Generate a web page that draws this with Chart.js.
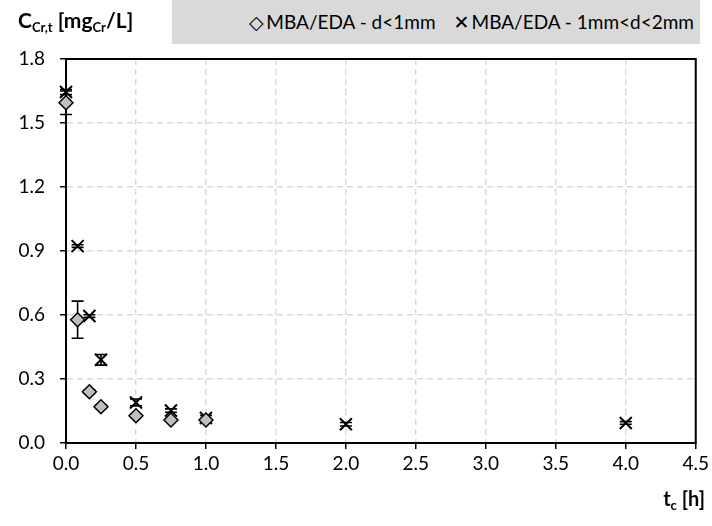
<!DOCTYPE html>
<html>
<head>
<meta charset="utf-8">
<script src="https://cdn.jsdelivr.net/npm/chart.js@4"></script>
<style>
    html, body { margin: 0; padding: 0; background: #fff; }
    #wrap { position: relative; width: 712px; height: 526px; font-family: Lato, 'Open Sans', sans-serif; color: #000; }
    #chart { position: absolute; left: 0; top: 0; }
    #ytitle { position: absolute; left: 18px; top: 7px; font-weight: bold; font-size: 21px; white-space: nowrap; }
    #ytitle sub { font-size: 13px; vertical-align: -4px; }
    #legend { position: absolute; left: 172px; top: 0; width: 528px; height: 44px; background: #d9d9d9;
        font-size: 19px; line-height: 44px; text-align: right; white-space: nowrap; }
    #legend span.item { margin-right: 6px; margin-left: 10px; }
    #legend span.sym { display: inline-block; width: 20px; text-align: center; font-family: 'DejaVu Sans', sans-serif; font-size: 19px; }
    #xtitle { position: absolute; right: 7px; top: 486px; font-weight: bold; font-size: 20px; white-space: nowrap; }
    #xtitle sub { font-size: 13px; vertical-align: -4px; }
</style>
</head>
<body>
<div id="wrap">
    <canvas id="chart" width="712" height="526"></canvas>
    <div id="ytitle">C<sub>Cr,t</sub> [mg<sub>Cr</sub>/L]</div>
    <div id="legend"></div>
    <div id="xtitle">t<sub>c</sub> [h]</div>
</div>
<script>
// Datos (tiempo de contacto en horas)
const timeFine = [0, 0.083, 0.167, 0.25, 0.5, 0.75, 1.0];
const fineValues = [1.595, 0.578, 0.24, 0.17, 0.128, 0.108, 0.108];
const fineErrors = [0.055, 0.087, 0.008, 0.008, 0.006, 0.006, 0.006];

const timeCoarse = [0, 0.083, 0.167, 0.25, 0.5, 0.75, 1.0, 2.0, 4.0];
const coarseValues = [1.645, 0.923, 0.595, 0.39, 0.19, 0.152, 0.117, 0.088, 0.094];
const coarseErrors = [0.012, 0.006, 0.006, 0.025, 0.016, 0.008, 0.012, 0.008, 0.006];

const seriesLabels = ['MBA/EDA - d<1mm', 'MBA/EDA - 1mm<d<2mm'];
const xTicks = [0, 0.5, 1.0, 1.5, 2.0, 2.5, 3.0, 3.5, 4.0, 4.5];
const yTicks = [0, 0.3, 0.6, 0.9, 1.2, 1.5, 1.8];

document.addEventListener('DOMContentLoaded', function() {
    buildLegend();
    initializeChart();
});

function buildLegend() {
    const legend = document.getElementById('legend');
    const symbols = ['\u25C7', '\u2715'];
    seriesLabels.forEach(function(label, i) {
        const item = document.createElement('span');
        item.className = 'item';
        const sym = document.createElement('span');
        sym.className = 'sym';
        sym.textContent = symbols[i];
        item.appendChild(sym);
        item.appendChild(document.createTextNode(label));
        legend.appendChild(item);
    });
}

function toPoints(xs, ys, errs) {
    return xs.map((x, i) => ({ x: x, y: ys[i], err: errs[i] }));
}

// Barras de error verticales con tapas
const errorBars = {
    id: 'errorBars',
    beforeDatasetsDraw(chart) {
        const ctx = chart.ctx;
        const yScale = chart.scales.y;
        ctx.save();
        ctx.strokeStyle = '#000';
        ctx.lineWidth = 1.6;
        chart.data.datasets.forEach(function(ds, di) {
            const meta = chart.getDatasetMeta(di);
            meta.data.forEach(function(pt, i) {
                const d = ds.data[i];
                const yTop = yScale.getPixelForValue(d.y + d.err);
                const yBot = yScale.getPixelForValue(d.y - d.err);
                ctx.beginPath();
                ctx.moveTo(pt.x, yTop);
                ctx.lineTo(pt.x, yBot);
                ctx.moveTo(pt.x - 6, yTop);
                ctx.lineTo(pt.x + 6, yTop);
                ctx.moveTo(pt.x - 6, yBot);
                ctx.lineTo(pt.x + 6, yBot);
                ctx.stroke();
            });
        });
        ctx.restore();
    }
};

// Marco superior y derecho del área del gráfico
const frame = {
    id: 'frame',
    beforeDatasetsDraw(chart) {
        const a = chart.chartArea;
        const ctx = chart.ctx;
        ctx.save();
        ctx.strokeStyle = '#000';
        ctx.lineWidth = 2;
        ctx.strokeRect(a.left, a.top, a.right - a.left, a.bottom - a.top);
        ctx.restore();
    }
};

function initializeChart() {
    const ctx = document.getElementById('chart');

    const chartConfig = {
        type: 'scatter',
        data: {
            datasets: [
                {
                    label: seriesLabels[0],
                    data: toPoints(timeFine, fineValues, fineErrors),
                    pointStyle: 'rectRot',
                    pointRadius: 7,
                    backgroundColor: '#bfbfbf',
                    borderColor: '#000',
                    borderWidth: 1.5,
                    clip: false
                },
                {
                    label: seriesLabels[1],
                    data: toPoints(timeCoarse, coarseValues, coarseErrors),
                    pointStyle: 'crossRot',
                    pointRadius: 8.5,
                    backgroundColor: '#000',
                    borderColor: '#000',
                    borderWidth: 2,
                    clip: false
                }
            ]
        },
        options: {
            responsive: false,
            animation: false,
            layout: {
                padding: { top: 59, right: 14, bottom: 43, left: 0 }
            },
            plugins: {
                legend: { display: false },
                tooltip: { enabled: false }
            },
            scales: {
                x: {
                    type: 'linear',
                    min: 0,
                    max: 4.5,
                    afterFit: function(s) { s.height = 40; },
                    afterBuildTicks: function(s) { s.ticks = xTicks.map(v => ({ value: v })); },
                    grid: {
                        color: '#d9d9d9',
                        lineWidth: 1.5,
                        tickLength: 6,
                        tickColor: '#000',
                        tickWidth: 1.5
                    },
                    border: { color: '#000', width: 2, dash: [6, 4] },
                    ticks: {
                        color: '#000',
                        padding: 3,
                        font: { family: 'Lato', size: 19 },
                        callback: function(value) { return value.toFixed(1); }
                    }
                },
                y: {
                    min: 0,
                    max: 1.8,
                    afterFit: function(s) { s.width = 66; },
                    afterBuildTicks: function(s) { s.ticks = yTicks.map(v => ({ value: v })); },
                    grid: {
                        color: '#d9d9d9',
                        lineWidth: 1.5,
                        tickLength: 6,
                        tickColor: '#000',
                        tickWidth: 1.5
                    },
                    border: { color: '#000', width: 2, dash: [6, 4] },
                    ticks: {
                        color: '#000',
                        padding: 15,
                        font: { family: 'Lato', size: 19 },
                        callback: function(value) { return value.toFixed(1); }
                    }
                }
            }
        },
        plugins: [errorBars, frame]
    };

    new Chart(ctx, chartConfig);
}
</script>
</body>
</html>
